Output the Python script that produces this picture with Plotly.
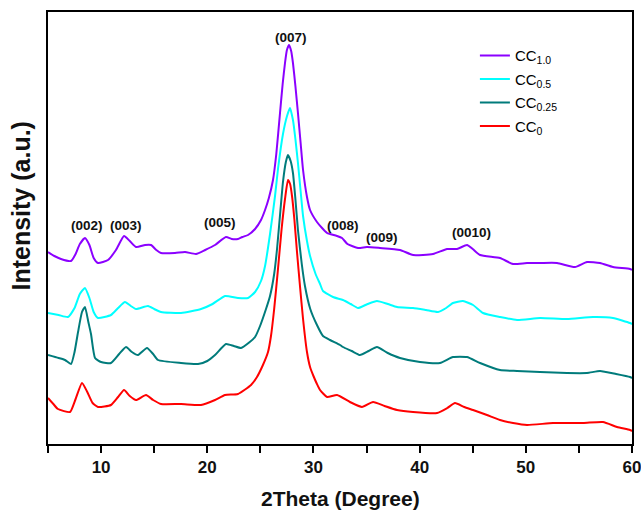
import plotly.graph_objects as go

# ---------------- data (2Theta in degrees, intensity in arbitrary units) ----------------
x_cc10 = [5.00, 5.6, 6.22, 7.17, 7.6, 8.0, 8.48, 8.9, 9.3, 9.71, 10.65, 11.4, 12.16, 12.7, 13.29,
          14.14, 14.70, 15.2, 15.64, 16.96, 17.90, 18.94, 19.8, 20.73, 21.76, 22.3, 22.89, 23.3,
          23.84, 24.5, 25.06, 25.44, 25.8, 26.19, 26.5, 26.85, 27.1, 27.32, 27.5, 27.70, 27.9,
          28.07, 28.3, 28.54, 28.8, 29.02, 29.39, 29.68, 30.33, 30.81, 31.28, 31.56, 32.22, 32.69,
          33.2, 34.20, 35.04, 36.27, 38.15, 39.38, 41.26, 42.58, 43.52, 44.46, 45.0, 45.69, 47.57,
          48.79, 50.11, 51.34, 52.94, 54.63, 55.76, 56.99, 58.21, 59.81, 60.0]
y_cc10 = [192, 188, 185, 183, 190, 200, 206, 199, 186, 181, 184, 194, 208, 203, 197,
          199, 199, 194, 191, 191, 192, 190, 194, 199, 207, 205, 205, 207,
          209, 215, 224, 234, 246, 264, 290, 331, 360, 381, 394, 399, 393,
          381, 358, 331, 300, 274, 247, 234, 222, 216, 211, 210, 208, 206,
          200, 196, 197, 196, 194, 189, 190, 195, 195, 199, 195, 189, 186,
          180, 181, 181, 181, 177, 182, 181, 177, 175, 174]

x_cc05 = [5.00, 6.0, 6.88, 7.5, 8.0, 8.48, 8.9, 9.3, 9.71, 10.93, 11.6, 12.25, 12.8, 13.29, 14.42,
          15.0, 15.64, 17.53, 19.41, 20.5, 21.67, 22.89, 23.84, 24.5, 25.06, 25.44, 25.91, 26.38,
          26.66, 27.13, 27.51, 27.79, 28.07, 28.3, 28.54, 28.8, 29.02, 29.39, 29.68, 30.2, 30.62,
          30.90, 31.84, 32.78, 33.5, 34.20, 35.1, 35.98, 37.0, 37.87, 39.38, 40.6, 41.73, 42.5,
          43.14, 44.08, 45.03, 45.97, 47.57, 49.17, 51.34, 53.88, 56.33, 58.21, 59.81, 60.0]
y_cc05 = [131, 129, 127, 136, 150, 156, 146, 132, 126, 129, 136, 142, 138, 135, 138,
          135, 132, 131, 135, 140, 148, 146, 146, 152, 163, 178, 210, 248,
          275, 310, 328, 336, 324, 305, 281, 252, 228, 203, 188, 170, 160,
          153, 147, 144, 140, 136, 140, 143, 140, 137, 136, 134, 132, 136,
          141, 143, 139, 131, 127, 124, 126, 125, 127, 126, 121, 120]

x_cc025 = [5.00, 6.0, 6.60, 7.17, 7.5, 7.83, 8.2, 8.48, 8.8, 9.05, 9.43, 10.0, 10.93, 11.7, 12.35,
           12.9, 13.48, 14.32, 14.9, 15.36, 17.53, 19.13, 20.0, 20.73, 21.76, 22.5, 23.18, 24.0,
           24.50, 24.97, 25.5, 25.91, 26.3, 26.57, 26.9, 27.13, 27.40, 27.60, 27.85, 28.07, 28.30,
           28.54, 28.9, 29.20, 29.7, 30.33, 30.90, 31.56, 32.50, 32.78, 33.6, 34.38, 35.2, 35.98,
           37.0, 38.15, 40.03, 41.92, 43.14, 44.46, 45.69, 47.57, 49.17, 51.34, 53.88, 55.76,
           56.99, 58.5, 59.81, 60.0]
y_cc025 = [89, 86, 84, 80, 92, 112, 132, 137, 122, 110, 86, 82, 81, 90, 97,
           92, 89, 96, 90, 84, 81, 80, 83, 89, 100, 98, 96, 102,
           107, 118, 134, 148, 170, 195, 235, 262, 282, 289, 283, 271, 245,
           214, 180, 158, 135, 119, 108, 104, 99, 97, 93, 89, 93, 97,
           91, 86, 82, 81, 87, 87, 81, 74, 73, 72, 71, 71,
           73, 70, 67, 66]

x_cc0 = [5.00, 5.5, 5.94, 7.07, 7.6, 8.20, 8.7, 9.2, 9.71, 10.93, 11.6, 12.16, 12.7, 13.29, 14.23,
         14.9, 15.64, 17.53, 19.41, 20.73, 21.67, 22.89, 24.12, 24.68, 25.2, 25.72, 26.0, 26.3,
         26.66, 27.0, 27.32, 27.60, 27.8, 27.98, 28.2, 28.45, 28.73, 29.02, 29.39, 29.68, 30.0,
         30.33, 30.62, 31.28, 32.22, 33.44, 34.57, 35.61, 36.7, 37.87, 39.38, 41.64, 42.6, 43.33,
         44.2, 45.03, 46.34, 47.57, 48.8, 50.11, 52.56, 55.39, 57.27, 58.59, 59.81, 60.0]
y_cc0 = [46, 40, 35, 32, 45, 61, 52, 41, 37, 39, 47, 54, 48, 44, 49,
         44, 40, 40, 39, 44, 49, 50, 59, 67, 78, 92, 108, 135,
         175, 215, 245, 264, 260, 248, 225, 192, 158, 125, 92, 77, 68,
         60, 54, 47, 49, 42, 37, 42, 38, 34, 32, 31, 36, 41,
         37, 34, 29, 24, 21, 19, 21, 21, 22, 17, 14, 13]

# legend order top -> bottom
series_names = ["CC<sub>1.0</sub>", "CC<sub>0.5</sub>", "CC<sub>0.25</sub>", "CC<sub>0</sub>"]
series_colors = ["#8B00FF", "#00FFFF", "#007B7B", "#FF0000"]
series_x = [x_cc10, x_cc05, x_cc025, x_cc0]
series_y = [y_cc10, y_cc05, y_cc025, y_cc0]

x_tick_vals = [5, 10, 15, 20, 25, 30, 35, 40, 45, 50, 55, 60]
x_tick_text = ["", "10", "", "20", "", "30", "", "40", "", "50", "", "60"]

peak_labels = ["(002)", "(003)", "(005)", "(007)", "(008)", "(009)", "(0010)"]
peak_label_x = [8.67, 12.3, 21.2, 27.89, 32.78, 36.45, 44.84]
peak_label_y = [219, 219, 222, 407, 219, 207, 212]

FONT = "Liberation Sans, Arial, sans-serif"

fig = go.Figure()
for i, (xs, ys, nm, col) in enumerate(zip(series_x, series_y, series_names, series_colors)):
    fig.add_trace(go.Scatter(x=xs, y=ys, mode="lines", name=nm, legendgroup="g%d" % i,
                             line=dict(color=col, width=2, shape="spline", smoothing=0.5)))

for t, px, py in zip(peak_labels, peak_label_x, peak_label_y):
    fig.add_annotation(x=px, y=py, xref="x", yref="y", text="<b>" + t + "</b>",
                       showarrow=False, font=dict(family=FONT, size=13.5, color="#111"))

fig.add_annotation(x=0.5, y=-0.125, xref="paper", yref="paper", text="<b>2Theta (Degree)</b>",
                   showarrow=False, yanchor="middle",
                   font=dict(family=FONT, size=21, color="#111"))
fig.add_annotation(x=-0.047, y=0.551, xref="paper", yref="paper", text="<b>Intensity (a.u.)</b>",
                   showarrow=False, textangle=-90, xanchor="center", yanchor="middle",
                   font=dict(family=FONT, size=25, color="#111"))

fig.update_layout(
    width=641, height=511,
    margin=dict(l=48, r=9, t=12, b=67, pad=0),
    paper_bgcolor="white", plot_bgcolor="white",
    showlegend=True,
    legend=dict(x=0.731, y=0.937, xanchor="left", yanchor="top", traceorder="grouped",
                tracegroupgap=1, bgcolor="rgba(0,0,0,0)", borderwidth=0,
                font=dict(family=FONT, size=15, color="#000")),
    xaxis=dict(range=[5, 60], tickmode="array", tickvals=x_tick_vals, ticktext=x_tick_text,
               ticks="outside", ticklen=7, tickwidth=2, tickcolor="black",
               showline=True, linewidth=2, linecolor="black", mirror=True,
               showgrid=False, zeroline=False, automargin=False, ticklabeloverflow="allow",
               tickfont=dict(family=FONT, size=17, color="#111", weight="bold")),
    yaxis=dict(range=[0, 432], showticklabels=False, ticks="",
               showline=True, linewidth=2, linecolor="black", mirror=True,
               showgrid=False, zeroline=False, automargin=False),
)

fig.write_html("out.html")
